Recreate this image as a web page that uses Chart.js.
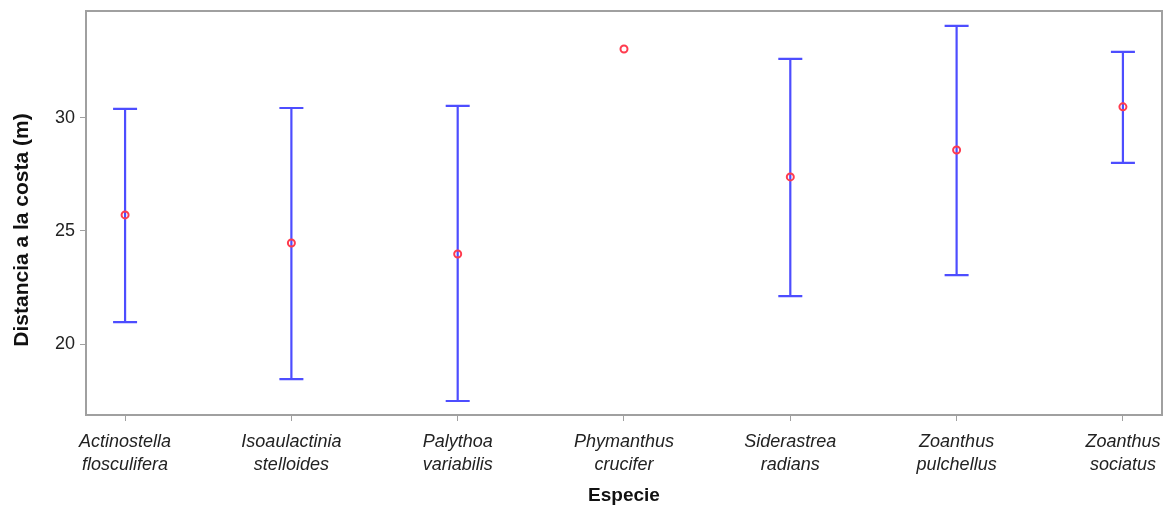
<!DOCTYPE html>
<html>
<head>
<meta charset="utf-8">
<script src="https://cdn.jsdelivr.net/npm/chart.js@4/dist/chart.umd.min.js"></script>
<style>
  html, body { margin: 0; padding: 0; background: #fff; }
  #wrap { width: 1168px; height: 508px; }
</style>
</head>
<body>
<div id="wrap"><canvas id="distChart"></canvas></div>
<script>
// species and distance to shore (m): mean with lower / upper interval
const species = [
  ['Actinostella', 'flosculifera'],
  ['Isoaulactinia', 'stelloides'],
  ['Palythoa', 'variabilis'],
  ['Phymanthus', 'crucifer'],
  ['Siderastrea', 'radians'],
  ['Zoanthus', 'pulchellus'],
  ['Zoanthus', 'sociatus']
];
const means = [25.71, 24.47, 23.98, 33.05, 27.39, 28.58, 30.49];
const lower = [20.97, 18.45, 17.48, null, 22.12, 23.05, 28.01];
const upper = [30.40, 30.44, 30.53, null, 32.61, 34.07, 32.92];
const yTicks = [20, 25, 30];

const axisGrey = '#a0a0a0';
const font = 'Liberation Sans, Arial, sans-serif';

// vertical intervals with caps, drawn under the mean markers
const errorBars = {
  id: 'errorBars',
  beforeDatasetsDraw(chart) {
    const { ctx, scales: { x, y } } = chart;
    ctx.save();
    ctx.strokeStyle = '#4d4dff';
    ctx.lineWidth = 2.2;
    means.forEach((m, i) => {
      if (lower[i] == null) return;
      const px = x.getPixelForValue(i);
      const top = y.getPixelForValue(upper[i]);
      const bot = y.getPixelForValue(lower[i]);
      ctx.beginPath();
      ctx.moveTo(px, top); ctx.lineTo(px, bot);
      ctx.moveTo(px - 12, top); ctx.lineTo(px + 12, top);
      ctx.moveTo(px - 12, bot); ctx.lineTo(px + 12, bot);
      ctx.stroke();
    });
    ctx.restore();
  },
  afterDraw(chart) {
    const { ctx, chartArea: a } = chart;
    ctx.save();
    // box round the plot area
    ctx.strokeStyle = axisGrey;
    ctx.lineWidth = 2;
    ctx.strokeRect(a.left, a.top, a.right - a.left, a.bottom - a.top);
    // y axis title, set a little below the middle of the axis
    ctx.translate(22, 230);
    ctx.rotate(-Math.PI / 2);
    ctx.fillStyle = '#111';
    ctx.font = 'bold 21px ' + font;
    ctx.textAlign = 'center';
    ctx.textBaseline = 'middle';
    ctx.fillText('Distancia a la costa (m)', 0, 0);
    ctx.restore();
  }
};

new Chart(document.getElementById('distChart'), {
  type: 'scatter',
  data: {
    datasets: [{
      data: means.map((m, i) => ({ x: i, y: m })),
      pointRadius: 3.5,
      pointHoverRadius: 3.5,
      pointBorderWidth: 2,
      pointBorderColor: '#ff3b4e',
      pointBackgroundColor: 'rgba(0,0,0,0)'
    }]
  },
  options: {
    responsive: true,
    maintainAspectRatio: false,
    animation: false,
    layout: { padding: { top: 11, right: 6 } },
    plugins: { legend: { display: false }, tooltip: { enabled: false } },
    scales: {
      x: {
        type: 'linear',
        min: -0.235,
        max: 6.235,
        afterBuildTicks(scale) { scale.ticks = species.map((s, i) => ({ value: i })); },
        afterFit(scale) {
          scale.height = 93;
          scale.paddingLeft = 0;
          scale.paddingRight = 0;
        },
        grid: { drawOnChartArea: false, drawTicks: true, tickLength: 6, color: axisGrey },
        border: { color: axisGrey, width: 2 },
        ticks: {
          autoSkip: false,
          maxRotation: 0,
          padding: 10,
          color: '#222',
          font: { family: font, size: 18, style: 'italic', lineHeight: 1.25 },
          callback: (v) => species[v]
        },
        title: {
          display: true,
          text: 'Especie',
          color: '#111',
          font: { family: font, size: 19, weight: 'bold' },
          padding: { top: 2, bottom: 1 }
        }
      },
      y: {
        min: 16.86,
        max: 34.73,
        afterBuildTicks(scale) { scale.ticks = yTicks.map(v => ({ value: v })); },
        afterFit(scale) {
          scale.width = 86;
          // tick labels sit well inside the axis, no extra room needed at the ends
          scale.paddingTop = 0;
          scale.paddingBottom = 0;
        },
        grid: { drawOnChartArea: false, drawTicks: true, tickLength: 6, color: axisGrey },
        border: { color: axisGrey, width: 2 },
        ticks: {
          padding: 5,
          color: '#222',
          font: { family: font, size: 18 }
        }
      }
    }
  },
  plugins: [errorBars]
});
</script>
</body>
</html>
